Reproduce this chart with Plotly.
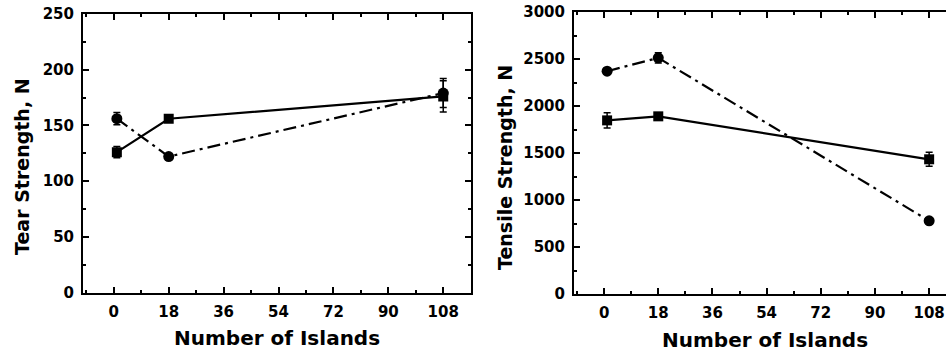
import plotly.graph_objects as go

islands = [1, 18, 108]
tear_circle = [156, 122, 179]
tear_circle_err = [5.5, 2, 13]
tear_square = [126, 156, 176]
tear_square_err = [5, 2, 14]
tensile_circle = [2370, 2512, 778]
tensile_circle_err = [30, 55, 25]
tensile_square = [1847, 1890, 1433]
tensile_square_err = [80, 25, 75]
x_ticks = [0, 18, 36, 54, 72, 90, 108]

W, H = 946, 353
FONT = "DejaVu Sans"
DASHDOT = "13px,5px,3px,5px"


def px(x):
    return x / W


def py(y):
    return 1 - y / H


fig = go.Figure()


def add(x, y, err, sym, dash, xa, ya, size):
    fig.add_trace(go.Scatter(
        x=x, y=y, mode="lines+markers",
        line=dict(color="black", width=2.2, dash=dash),
        marker=dict(symbol=sym, size=size, color="black"),
        error_y=dict(type="data", array=err, visible=True, color="black",
                     thickness=1.5, width=3.5),
        xaxis=xa, yaxis=ya, showlegend=False))


add(islands, tear_circle, tear_circle_err, "circle", DASHDOT, "x", "y", 11)
add(islands, tear_square, tear_square_err, "square", "solid", "x", "y", 10)
add(islands, tensile_circle, tensile_circle_err, "circle", DASHDOT, "x2", "y2", 11)
add(islands, tensile_square, tensile_square_err, "square", "solid", "x2", "y2", 10)

tickfont = dict(family=FONT, size=15, color="black", weight="bold")
titlefont = dict(family=FONT, size=19, color="black", weight="bold")
xtitlefont = dict(family=FONT, size=20, color="black", weight="bold")

axis_common = dict(showline=True, linewidth=2, linecolor="black", mirror="ticks",
                   ticks="inside", ticklen=6, tickwidth=1.5, tickcolor="black",
                   showgrid=False, zeroline=False, automargin=False,
                   ticklabelstandoff=4, ticklabeloverflow="allow", tickfont=tickfont)

xa = dict(axis_common, range=[-10.1, 117.1], tickvals=x_ticks,
          minor=dict(ticks="inside", ticklen=3, dtick=9, tick0=0, tickcolor="black", tickwidth=1.5))

fig.update_layout(
    width=W, height=H, margin=dict(l=0, r=0, t=0, b=0),
    paper_bgcolor="white", plot_bgcolor="white",
    xaxis=dict(xa, domain=[px(83), px(471)], anchor="y"),
    xaxis2=dict(xa, domain=[px(574), 1.0], anchor="y2", range=[-10, 113.6]),
    yaxis=dict(axis_common, domain=[py(292.5), py(14)], anchor="x",
               range=[0, 250], dtick=50,
               minor=dict(ticks="inside", ticklen=3, dtick=25, tickcolor="black", tickwidth=1.5)),
    yaxis2=dict(axis_common, domain=[py(294), py(12)], anchor="x2", mirror=False,
                range=[0, 3000], dtick=500,
                minor=dict(ticks="inside", ticklen=3, dtick=250, tickcolor="black", tickwidth=1.5)),
    annotations=[
        dict(text="Number of Islands", x=px(277), y=py(338), xref="paper", yref="paper",
             showarrow=False, font=xtitlefont, xanchor="center", yanchor="middle"),
        dict(text="Number of Islands", x=px(765), y=py(340), xref="paper", yref="paper",
             showarrow=False, font=xtitlefont, xanchor="center", yanchor="middle"),
        dict(text="Tear Strength, N", x=px(22), y=py(167), xref="paper", yref="paper",
             showarrow=False, font=titlefont, textangle=-90, xanchor="center", yanchor="middle"),
        dict(text="Tensile Strength, N", x=px(505), y=py(168), xref="paper", yref="paper",
             showarrow=False, font=titlefont, textangle=-90, xanchor="center", yanchor="middle"),
    ],
)

fig.write_html(
    "out.html",
    config={"displayModeBar": False},
    post_script="document.body.style.margin='0';document.body.style.overflow='hidden';",
)
